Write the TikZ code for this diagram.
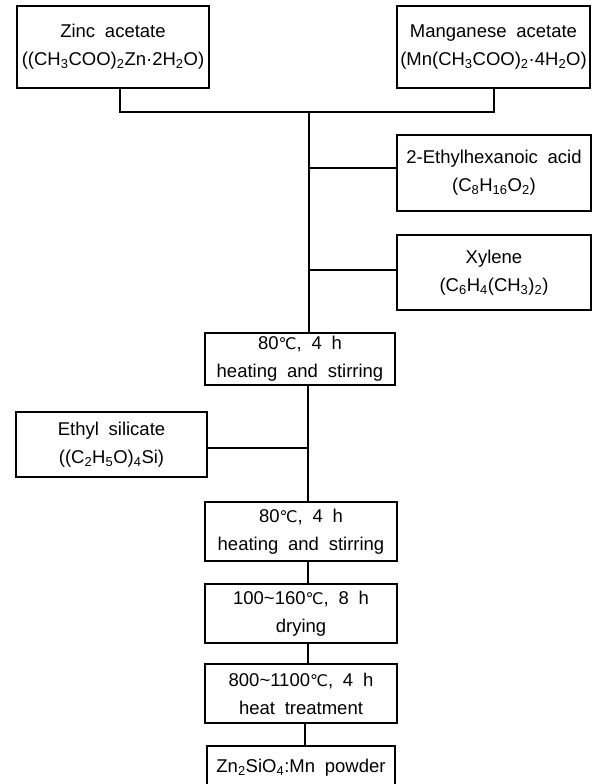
\documentclass[tikz,border=0pt]{standalone}
\usepackage{fontspec}
\setmainfont{Liberation Sans}[WordSpace=1.9]
\newfontfamily\degfont{DejaVu Sans}
\usetikzlibrary{positioning}
\newcommand{\sbs}[1]{\textsubscript{#1}}
\newcommand{\degc}{{\degfont\fontsize{16}{28}\selectfont ℃}}

\begin{document}
\begin{tikzpicture}[x=1pt, y=-1pt,
    box/.style={draw, line width=1.5pt, minimum width=192pt, align=center,
                inner sep=0pt, font=\fontsize{18.5}{28}\selectfont},
    link/.style={line width=1.5pt},
  ]
    \useasboundingbox (0,0) rectangle (592,784);
    \clip (0,0) rectangle (592,784);

    % Starting materials
    \node[box, minimum height=82pt] (zinc) at (113,47)
      {Zinc acetate\\((CH\sbs{3}COO)\sbs{2}Zn·2H\sbs{2}O)};
    \node[box, minimum height=82pt, minimum width=193pt] (mnac) at (493.5,47)
      {Manganese acetate\\(Mn(CH\sbs{3}COO)\sbs{2}·4H\sbs{2}O)};

    % Additives on the right
    \node[box, minimum height=76pt, minimum width=194pt] (ethx) at (494,173)
      {2-Ethylhexanoic acid\\(C\sbs{8}H\sbs{16}O\sbs{2})};
    \node[box, minimum height=75pt, minimum width=194pt] (xyln) at (494,272.5)
      {Xylene\\(C\sbs{6}H\sbs{4}(CH\sbs{3})\sbs{2})};

    % Process steps
    \node[box, minimum height=52pt, minimum width=190pt] (heatA) at (300,359)
      {80\degc, 4 h\\heating and stirring};
    \node[box, minimum height=65pt, minimum width=191pt] (silc) at (111.5,444.5)
      {Ethyl silicate\\((C\sbs{2}H\sbs{5}O)\sbs{4}Si)};
    \node[box, minimum height=59pt] (heatB) at (301,531.5)
      {80\degc, 4 h\\heating and stirring};
    \node[box, minimum height=59pt] (dryg) at (301,613.5)
      {100\textasciitilde160\degc, 8 h\\drying};
    \node[box, minimum height=59pt] (trtm) at (301,693.5)
      {800\textasciitilde1100\degc, 4 h\\heat treatment};
    \node[box, minimum width=188pt, anchor=north, inner ysep=13pt, text depth=30pt]
      (powd) at (301,745) {Zn\sbs{2}SiO\sbs{4}:Mn powder};

    % Junctions
    \coordinate (jz) at (120,112);
    \coordinate (jm) at (494,112);
    \coordinate (jt) at (309,112);
    \coordinate (je) at (309,168);
    \coordinate (jx) at (309,270);
    \coordinate (js) at (308,448);

    \draw[link] (zinc.south -| jz) -- (jz) -- (jm) -- (mnac.south -| jm);
    \draw[link] (jt) -- (heatA.north -| jt);
    \draw[link] (je) -- (je -| ethx.west);
    \draw[link] (jx) -- (jx -| xyln.west);

    \draw[link] (heatA.south -| js) -- (heatB.north -| js);
    \draw[link] (js -| silc.east) -- (js);
    \draw[link] (heatB.south -| js) -- (dryg.north -| js);
    \draw[link] (dryg.south -| js) -- (trtm.north -| js);
    \draw[link] ([xshift=4pt]trtm.south) -- ([xshift=4pt]powd.north);
  \end{tikzpicture}
\end{document}
